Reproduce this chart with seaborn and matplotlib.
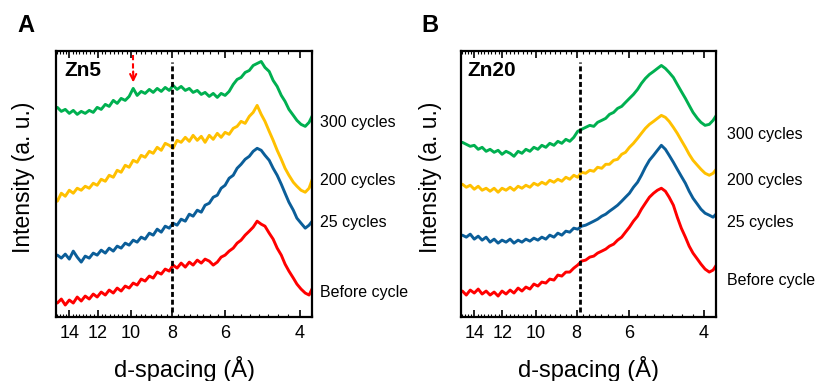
import numpy as np
import pandas as pd
import matplotlib
matplotlib.use("Agg")
import matplotlib.pyplot as plt
import seaborn as sns
from matplotlib.ticker import FixedLocator, NullFormatter, FuncFormatter

# ---------------- data ----------------
d_spacing = [14.94, 14.62, 14.31, 14.00, 13.70, 13.41, 13.12, 12.84, 12.56, 12.29,
             12.03, 11.77, 11.51, 11.27, 11.02, 10.79, 10.56, 10.33, 10.11, 9.89,
             9.68, 9.47, 9.27, 9.06, 8.87, 8.68, 8.49, 8.31, 8.13, 7.96,
             7.79, 7.62, 7.45, 7.29, 7.14, 6.98, 6.83, 6.69, 6.54, 6.40,
             6.26, 6.13, 6.00, 5.87, 5.74, 5.62, 5.50, 5.38, 5.26, 5.15,
             5.04, 4.93, 4.83, 4.72, 4.62, 4.52, 4.42, 4.33, 4.24, 4.14,
             4.06, 3.97, 3.88, 3.80, 3.72]

zn5_300 = [210, 206, 208, 204, 207, 203, 206, 204, 207, 205,
           210, 208, 213, 211, 217, 214, 219, 217, 221, 229,
           222, 226, 224, 228, 225, 229, 226, 230, 227, 232,
           228, 231, 227, 229, 225, 227, 223, 225, 221, 224,
           220, 224, 222, 226, 233, 238, 240, 245, 247, 252,
           254, 256, 250, 246, 237, 231, 222, 216, 208, 202,
           197, 193, 191, 195, 203]
zn5_200 = [116, 124, 121, 127, 124, 129, 127, 131, 129, 134,
           132, 138, 136, 142, 140, 147, 145, 152, 150, 157,
           155, 162, 160, 166, 164, 170, 167, 174, 172, 169,
           177, 175, 180, 176, 182, 177, 181, 175, 182, 178,
           184, 180, 185, 183, 189, 191, 196, 194, 201, 205,
           212, 203, 196, 186, 177, 167, 158, 149, 142, 135,
           131, 127, 125, 129, 140]
zn5_25 = [62, 59, 63, 58, 66, 60, 55, 61, 59, 64,
          62, 67, 64, 69, 66, 71, 69, 74, 72, 77,
          75, 80, 78, 84, 82, 88, 85, 91, 89, 94,
          92, 98, 96, 103, 101, 107, 105, 112, 114, 120,
          122, 129, 132, 139, 142, 149, 153, 158, 161, 166,
          169, 167, 162, 157, 149, 142, 133, 124, 115, 107,
          99, 94, 89, 92, 97]
zn5_before = [14, 18, 12, 17, 14, 20, 16, 21, 18, 23,
              20, 25, 22, 27, 24, 29, 26, 31, 29, 34,
              32, 38, 36, 41, 39, 45, 43, 48, 46, 52,
              49, 54, 50, 55, 52, 57, 54, 58, 56, 52,
              55, 60, 62, 66, 69, 74, 77, 82, 86, 90,
              96, 93, 91, 84, 78, 69, 62, 53, 46, 39,
              33, 28, 24, 22, 30]

zn20_300 = [175, 173, 171, 172, 168, 170, 166, 168, 165, 167,
            163, 166, 164, 161, 166, 164, 168, 166, 170, 168,
            172, 170, 174, 172, 176, 174, 178, 176, 180, 186,
            188, 190, 192, 191, 195, 197, 199, 203, 205, 209,
            211, 215, 219, 223, 228, 234, 239, 243, 246, 249,
            252, 249, 245, 240, 233, 226, 219, 212, 205, 199,
            195, 192, 193, 197, 203]
zn20_200 = [133, 130, 132, 128, 131, 127, 129, 126, 129, 125,
            129, 127, 130, 127, 131, 129, 132, 130, 134, 132,
            135, 133, 137, 135, 138, 136, 140, 138, 142, 140,
            145, 144, 147, 146, 150, 149, 153, 153, 157, 158,
            163, 165, 170, 174, 179, 184, 189, 193, 196, 199,
            202, 200, 196, 190, 184, 177, 170, 163, 157, 152,
            148, 144, 142, 144, 149]
zn20_25 = [82, 80, 83, 78, 81, 77, 80, 75, 78, 74,
           77, 75, 78, 74, 77, 75, 78, 76, 79, 77,
           80, 78, 82, 80, 84, 82, 86, 85, 89, 88,
           91, 92, 94, 96, 98, 101, 103, 106, 109, 112,
           116, 120, 124, 130, 135, 142, 150, 157, 162, 167,
           172, 168, 162, 155, 148, 141, 134, 126, 119, 113,
           108, 104, 102, 100, 104]
zn20_before = [26, 22, 27, 24, 28, 23, 26, 22, 25, 21,
               26, 23, 27, 24, 29, 26, 30, 28, 33, 31,
               35, 34, 38, 37, 42, 41, 45, 45, 49, 52,
               56, 57, 60, 61, 64, 66, 68, 71, 73, 77,
               80, 85, 90, 96, 101, 108, 114, 120, 124, 127,
               129, 126, 120, 112, 100, 89, 80, 71, 64, 58,
               53, 48, 45, 47, 53]

series_labels = ["300 cycles", "200 cycles", "25 cycles", "Before cycle"]
series_colors = ["#00B050", "#FFC000", "#0B5E99", "#FF0000"]
major_ticks = [14, 12, 10, 8, 6, 4]
ref_line_d = [8.0, 7.87]
arrow_d = 9.89

# ---------------- style ----------------
sns.set_style("white")
plt.rcParams["font.family"] = ["Liberation Sans", "DejaVu Sans"]
plt.rcParams["text.color"] = "black"
plt.rcParams["axes.labelcolor"] = "black"
plt.rcParams["xtick.color"] = "black"
plt.rcParams["ytick.color"] = "black"

W, H = 816, 381
fig = plt.figure(figsize=(W / 100, H / 100), dpi=100)


def px_axes(l, t, r, b):
    return fig.add_axes([l / W, 1 - b / H, (r - l) / W, (b - t) / H])


def ftext(x, y, s, **kw):
    fig.text(x / W, 1 - y / H, s, color="black", **kw)


axA = px_axes(56, 50.5, 312, 317)
axB = px_axes(461, 50.5, 716, 317)

panels = [
    (axA, [zn5_300, zn5_200, zn5_25, zn5_before]),
    (axB, [zn20_300, zn20_200, zn20_25, zn20_before]),
]

for k, (ax, curves) in enumerate(panels):
    df = pd.DataFrame({
        "d": d_spacing * len(curves),
        "I": sum(curves, []),
        "series": sum([[lab] * len(d_spacing) for lab in series_labels], []),
    })
    sns.lineplot(data=df, x="d", y="I", hue="series", hue_order=series_labels,
                 palette=series_colors, estimator=None, sort=False, legend=False,
                 linewidth=2.1, ax=ax)
    ax.set_xscale("log")
    ax.set_xlim(15.05, 3.74)
    ax.set_ylim(0, 267)
    ax.xaxis.set_major_locator(FixedLocator(major_ticks))
    ax.xaxis.set_major_formatter(FuncFormatter(lambda v, p: f"{v:g}"))
    ax.xaxis.set_minor_locator(FixedLocator(np.arange(3.75, 15.01, 0.25)))
    ax.xaxis.set_minor_formatter(NullFormatter())
    ax.tick_params(axis="x", which="major", direction="in", length=5, width=1.2,
                   top=True, bottom=True, labelsize=13, pad=6, colors="black")
    ax.tick_params(axis="x", which="minor", direction="in", length=2.5, width=0.8,
                   top=True, bottom=True, colors="black")
    ax.set_yticks([])
    ax.set_xlabel("")
    ax.set_ylabel("")
    for sp in ax.spines.values():
        sp.set_linewidth(1.6)
        sp.set_color("black")
    # vertical dashed reference line
    ax.plot([ref_line_d[k], ref_line_d[k]], [5, 255], color="black", lw=2.0,
            linestyle=(0, (1.8, 1.0)))

# red dashed arrow in panel A
axA.plot([arrow_d, arrow_d], [262, 244], color="red", lw=1.5, linestyle=(0, (2.5, 1.5)))
axA.annotate("", xy=(arrow_d, 235), xytext=(arrow_d, 246),
             arrowprops=dict(arrowstyle="->", color="red", lw=1.5, mutation_scale=11,
                             shrinkA=0, shrinkB=0))

# ---------------- texts ----------------
ftext(17, 26, "A", fontsize=17, fontweight="bold", va="center", ha="left")
ftext(421, 26, "B", fontsize=17, fontweight="bold", va="center", ha="left")

ftext(64, 70, "Zn5", fontsize=15, fontweight="bold", va="center", ha="left")
ftext(467, 70, "Zn20", fontsize=15, fontweight="bold", va="center", ha="left")

for xc in (24, 430):
    ftext(xc, 177, "Intensity (a. u.)", fontsize=16.5, rotation=90, va="center", ha="center")
ftext(184, 369, "d-spacing (Å)", fontsize=17, va="center", ha="center")
ftext(588, 369, "d-spacing (Å)", fontsize=17, va="center", ha="center")

labA_y = [122.5, 181, 222, 292]
labB_y = [134, 181, 222, 280]
for lab, ya, yb in zip(series_labels, labA_y, labB_y):
    ftext(320, ya, lab, fontsize=11.5, va="center", ha="left")
    ftext(727, yb, lab, fontsize=11.5, va="center", ha="left")

fig.savefig("out.png", dpi=100)
